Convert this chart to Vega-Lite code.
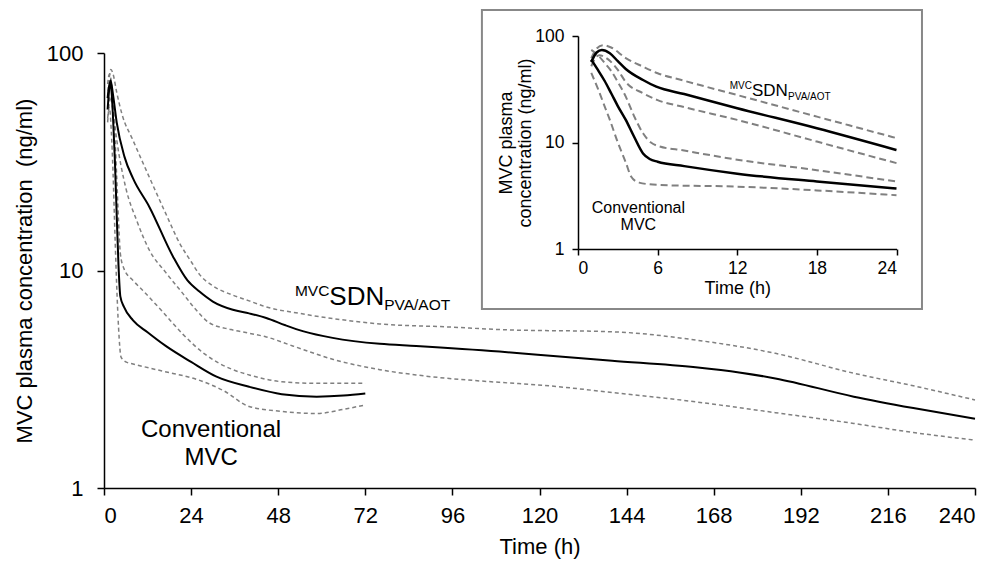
{
"$schema":"https://vega.github.io/schema/vega-lite/v6.json",
"width":871,"height":435,
"autosize":{"type":"none"},
"padding":{"left":104,"top":53,"right":27,"bottom":76},
"config":{"font":"Liberation Sans","view":{"stroke":null},
"axis":{"grid":false,"domainColor":"#000","tickColor":"#000","labelColor":"#000","titleColor":"#000","titleFontWeight":"normal","domainWidth":1.5,"tickWidth":1.5}},
"datasets":{"curves":[
{"p":"main","s":"conv","t":1,"c":62},{"p":"main","s":"conv","t":1.5,"c":72},{"p":"main","s":"conv","t":2,"c":68},{"p":"main","s":"conv","t":2.5,"c":50},{"p":"main","s":"conv","t":3,"c":32},{"p":"main","s":"conv","t":3.5,"c":18},{"p":"main","s":"conv","t":4,"c":10.5},{"p":"main","s":"conv","t":4.5,"c":7.6},{"p":"main","s":"conv","t":5.5,"c":6.8},{"p":"main","s":"conv","t":8,"c":5.9},{"p":"main","s":"conv","t":12,"c":5.2},{"p":"main","s":"conv","t":17,"c":4.5},{"p":"main","s":"conv","t":24,"c":3.8},{"p":"main","s":"conv","t":31,"c":3.25},{"p":"main","s":"conv","t":40,"c":2.92},{"p":"main","s":"conv","t":49,"c":2.7},{"p":"main","s":"conv","t":58.6,"c":2.63},{"p":"main","s":"conv","t":66,"c":2.66},{"p":"main","s":"conv","t":72,"c":2.72},
{"p":"main","s":"conv_hi","t":1,"c":72},{"p":"main","s":"conv_hi","t":1.5,"c":80},{"p":"main","s":"conv_hi","t":2,"c":74},{"p":"main","s":"conv_hi","t":2.5,"c":60},{"p":"main","s":"conv_hi","t":3,"c":42},{"p":"main","s":"conv_hi","t":3.5,"c":27},{"p":"main","s":"conv_hi","t":4,"c":17},{"p":"main","s":"conv_hi","t":4.5,"c":12},{"p":"main","s":"conv_hi","t":5.5,"c":10.2},{"p":"main","s":"conv_hi","t":8,"c":9},{"p":"main","s":"conv_hi","t":10.7,"c":8.1},{"p":"main","s":"conv_hi","t":16,"c":6.5},{"p":"main","s":"conv_hi","t":21.7,"c":5.1},{"p":"main","s":"conv_hi","t":28,"c":4.1},{"p":"main","s":"conv_hi","t":35.5,"c":3.5},{"p":"main","s":"conv_hi","t":40,"c":3.31},{"p":"main","s":"conv_hi","t":49,"c":3.08},{"p":"main","s":"conv_hi","t":58.6,"c":3.03},{"p":"main","s":"conv_hi","t":72,"c":3.03},
{"p":"main","s":"conv_lo","t":1,"c":50},{"p":"main","s":"conv_lo","t":1.5,"c":56},{"p":"main","s":"conv_lo","t":2,"c":44},{"p":"main","s":"conv_lo","t":2.5,"c":28},{"p":"main","s":"conv_lo","t":3,"c":15},{"p":"main","s":"conv_lo","t":3.5,"c":8.5},{"p":"main","s":"conv_lo","t":4,"c":5.5},{"p":"main","s":"conv_lo","t":4.7,"c":4.0},{"p":"main","s":"conv_lo","t":6,"c":3.8},{"p":"main","s":"conv_lo","t":8,"c":3.72},{"p":"main","s":"conv_lo","t":16,"c":3.45},{"p":"main","s":"conv_lo","t":26,"c":3.14},{"p":"main","s":"conv_lo","t":33,"c":2.8},{"p":"main","s":"conv_lo","t":40,"c":2.37},{"p":"main","s":"conv_lo","t":49,"c":2.25},{"p":"main","s":"conv_lo","t":58.6,"c":2.2},{"p":"main","s":"conv_lo","t":66,"c":2.3},{"p":"main","s":"conv_lo","t":72,"c":2.41},
{"p":"main","s":"sdn","t":1,"c":55},{"p":"main","s":"sdn","t":1.5,"c":70},{"p":"main","s":"sdn","t":1.8,"c":75},{"p":"main","s":"sdn","t":2.5,"c":64},{"p":"main","s":"sdn","t":3.5,"c":48},{"p":"main","s":"sdn","t":5.65,"c":33.3},{"p":"main","s":"sdn","t":8,"c":26.5},{"p":"main","s":"sdn","t":12.5,"c":19.6},{"p":"main","s":"sdn","t":19,"c":11.6},{"p":"main","s":"sdn","t":23,"c":9.0},{"p":"main","s":"sdn","t":26.3,"c":8.0},{"p":"main","s":"sdn","t":30,"c":7.2},{"p":"main","s":"sdn","t":35.5,"c":6.6},{"p":"main","s":"sdn","t":40,"c":6.35},{"p":"main","s":"sdn","t":44.7,"c":6.05},{"p":"main","s":"sdn","t":50,"c":5.6},{"p":"main","s":"sdn","t":55,"c":5.25},{"p":"main","s":"sdn","t":63,"c":4.9},{"p":"main","s":"sdn","t":76,"c":4.6},{"p":"main","s":"sdn","t":86,"c":4.5},{"p":"main","s":"sdn","t":109,"c":4.24},{"p":"main","s":"sdn","t":119.5,"c":4.1},{"p":"main","s":"sdn","t":140,"c":3.85},{"p":"main","s":"sdn","t":163,"c":3.59},{"p":"main","s":"sdn","t":175,"c":3.4},{"p":"main","s":"sdn","t":185,"c":3.19},{"p":"main","s":"sdn","t":206.6,"c":2.63},{"p":"main","s":"sdn","t":223,"c":2.33},{"p":"main","s":"sdn","t":240,"c":2.08},
{"p":"main","s":"sdn_hi","t":1,"c":62},{"p":"main","s":"sdn_hi","t":1.5,"c":78},{"p":"main","s":"sdn_hi","t":1.9,"c":84},{"p":"main","s":"sdn_hi","t":2.5,"c":80},{"p":"main","s":"sdn_hi","t":3.5,"c":66},{"p":"main","s":"sdn_hi","t":5,"c":52},{"p":"main","s":"sdn_hi","t":7.9,"c":40},{"p":"main","s":"sdn_hi","t":12,"c":28},{"p":"main","s":"sdn_hi","t":17,"c":18.3},{"p":"main","s":"sdn_hi","t":21,"c":13.2},{"p":"main","s":"sdn_hi","t":24,"c":11},{"p":"main","s":"sdn_hi","t":26.3,"c":9.6},{"p":"main","s":"sdn_hi","t":30,"c":8.5},{"p":"main","s":"sdn_hi","t":35.5,"c":7.7},{"p":"main","s":"sdn_hi","t":40,"c":7.25},{"p":"main","s":"sdn_hi","t":44.7,"c":6.8},{"p":"main","s":"sdn_hi","t":53.9,"c":6.35},{"p":"main","s":"sdn_hi","t":65,"c":5.95},{"p":"main","s":"sdn_hi","t":76,"c":5.68},{"p":"main","s":"sdn_hi","t":95,"c":5.5},{"p":"main","s":"sdn_hi","t":109,"c":5.35},{"p":"main","s":"sdn_hi","t":141,"c":5.22},{"p":"main","s":"sdn_hi","t":163,"c":4.79},{"p":"main","s":"sdn_hi","t":185,"c":4.16},{"p":"main","s":"sdn_hi","t":206.6,"c":3.37},{"p":"main","s":"sdn_hi","t":223,"c":2.95},{"p":"main","s":"sdn_hi","t":240,"c":2.54},
{"p":"main","s":"sdn_lo","t":1,"c":48},{"p":"main","s":"sdn_lo","t":1.5,"c":60},{"p":"main","s":"sdn_lo","t":1.7,"c":63},{"p":"main","s":"sdn_lo","t":2.5,"c":54},{"p":"main","s":"sdn_lo","t":3.5,"c":40},{"p":"main","s":"sdn_lo","t":6,"c":24},{"p":"main","s":"sdn_lo","t":9,"c":17},{"p":"main","s":"sdn_lo","t":12.5,"c":12.4},{"p":"main","s":"sdn_lo","t":17,"c":9.8},{"p":"main","s":"sdn_lo","t":21.7,"c":7.85},{"p":"main","s":"sdn_lo","t":25,"c":6.7},{"p":"main","s":"sdn_lo","t":29,"c":5.75},{"p":"main","s":"sdn_lo","t":35,"c":5.35},{"p":"main","s":"sdn_lo","t":40.2,"c":5.14},{"p":"main","s":"sdn_lo","t":44.7,"c":4.95},{"p":"main","s":"sdn_lo","t":52,"c":4.5},{"p":"main","s":"sdn_lo","t":63.2,"c":3.9},{"p":"main","s":"sdn_lo","t":76,"c":3.5},{"p":"main","s":"sdn_lo","t":86,"c":3.31},{"p":"main","s":"sdn_lo","t":109,"c":3.06},{"p":"main","s":"sdn_lo","t":119.5,"c":2.98},{"p":"main","s":"sdn_lo","t":140,"c":2.75},{"p":"main","s":"sdn_lo","t":163,"c":2.49},{"p":"main","s":"sdn_lo","t":185,"c":2.22},{"p":"main","s":"sdn_lo","t":206.6,"c":1.98},{"p":"main","s":"sdn_lo","t":223,"c":1.8},{"p":"main","s":"sdn_lo","t":240,"c":1.66},
{"p":"inset","s":"sdn","t":1,"c":57},{"p":"inset","s":"sdn","t":1.4,"c":70},{"p":"inset","s":"sdn","t":1.8,"c":74},{"p":"inset","s":"sdn","t":2.4,"c":69},{"p":"inset","s":"sdn","t":3,"c":58},{"p":"inset","s":"sdn","t":3.6,"c":49},{"p":"inset","s":"sdn","t":4.9,"c":38.6},{"p":"inset","s":"sdn","t":5.9,"c":33.4},{"p":"inset","s":"sdn","t":8,"c":28.5},{"p":"inset","s":"sdn","t":12,"c":21},{"p":"inset","s":"sdn","t":18,"c":13.6},{"p":"inset","s":"sdn","t":24,"c":8.5},
{"p":"inset","s":"sdn_hi","t":1,"c":62},{"p":"inset","s":"sdn_hi","t":1.4,"c":76},{"p":"inset","s":"sdn_hi","t":1.9,"c":82},{"p":"inset","s":"sdn_hi","t":2.5,"c":78},{"p":"inset","s":"sdn_hi","t":3.6,"c":62},{"p":"inset","s":"sdn_hi","t":4.9,"c":51.5},{"p":"inset","s":"sdn_hi","t":6,"c":44.7},{"p":"inset","s":"sdn_hi","t":8,"c":38},{"p":"inset","s":"sdn_hi","t":12,"c":27.9},{"p":"inset","s":"sdn_hi","t":18,"c":17.5},{"p":"inset","s":"sdn_hi","t":24,"c":11},
{"p":"inset","s":"sdn_lo","t":1,"c":52},{"p":"inset","s":"sdn_lo","t":1.3,"c":62},{"p":"inset","s":"sdn_lo","t":1.6,"c":66},{"p":"inset","s":"sdn_lo","t":2.3,"c":60},{"p":"inset","s":"sdn_lo","t":3,"c":48},{"p":"inset","s":"sdn_lo","t":3.6,"c":37},{"p":"inset","s":"sdn_lo","t":4.9,"c":29},{"p":"inset","s":"sdn_lo","t":6,"c":25},{"p":"inset","s":"sdn_lo","t":8,"c":21.5},{"p":"inset","s":"sdn_lo","t":12,"c":16.3},{"p":"inset","s":"sdn_lo","t":18,"c":10.2},{"p":"inset","s":"sdn_lo","t":24,"c":6.4},
{"p":"inset","s":"conv","t":1,"c":60},{"p":"inset","s":"conv","t":1.5,"c":48},{"p":"inset","s":"conv","t":2,"c":38},{"p":"inset","s":"conv","t":2.5,"c":29},{"p":"inset","s":"conv","t":3,"c":22},{"p":"inset","s":"conv","t":3.6,"c":16.3},{"p":"inset","s":"conv","t":4.2,"c":11.5},{"p":"inset","s":"conv","t":4.9,"c":7.9},{"p":"inset","s":"conv","t":5.4,"c":7.0},{"p":"inset","s":"conv","t":6,"c":6.6},{"p":"inset","s":"conv","t":8,"c":6.0},{"p":"inset","s":"conv","t":12,"c":5.1},{"p":"inset","s":"conv","t":18,"c":4.3},{"p":"inset","s":"conv","t":24,"c":3.7},
{"p":"inset","s":"conv_hi","t":1,"c":74},{"p":"inset","s":"conv_hi","t":1.5,"c":66},{"p":"inset","s":"conv_hi","t":2,"c":56},{"p":"inset","s":"conv_hi","t":2.5,"c":47},{"p":"inset","s":"conv_hi","t":3,"c":37},{"p":"inset","s":"conv_hi","t":3.6,"c":27},{"p":"inset","s":"conv_hi","t":4.2,"c":18},{"p":"inset","s":"conv_hi","t":4.9,"c":12.2},{"p":"inset","s":"conv_hi","t":5.5,"c":10},{"p":"inset","s":"conv_hi","t":6,"c":9.3},{"p":"inset","s":"conv_hi","t":8,"c":8.4},{"p":"inset","s":"conv_hi","t":12,"c":6.9},{"p":"inset","s":"conv_hi","t":18,"c":5.5},{"p":"inset","s":"conv_hi","t":24,"c":4.3},
{"p":"inset","s":"conv_lo","t":1,"c":45},{"p":"inset","s":"conv_lo","t":1.5,"c":32},{"p":"inset","s":"conv_lo","t":2,"c":22},{"p":"inset","s":"conv_lo","t":2.4,"c":16.3},{"p":"inset","s":"conv_lo","t":3,"c":10},{"p":"inset","s":"conv_lo","t":3.6,"c":6.5},{"p":"inset","s":"conv_lo","t":4,"c":4.8},{"p":"inset","s":"conv_lo","t":4.6,"c":4.2},{"p":"inset","s":"conv_lo","t":6,"c":4.0},{"p":"inset","s":"conv_lo","t":12,"c":3.85},{"p":"inset","s":"conv_lo","t":18,"c":3.55},{"p":"inset","s":"conv_lo","t":24,"c":3.2}
]},
"layer":[
{"layer":[
 {"data":{"name":"curves"},"transform":[{"filter":"datum.p=='main' && datum.s!='conv' && datum.s!='sdn'"}],
  "mark":{"type":"line","interpolate":"monotone","color":"#808080","strokeWidth":1.5,"strokeDash":[4,3]},
  "encoding":{"detail":{"field":"s"},
   "x":{"field":"t","type":"quantitative","scale":{"domain":[0,240],"nice":false,"zero":false},
    "axis":{"orient":"bottom","values":[0,24,48,72,96,120,144,168,192,216,240],"title":"Time (h)","labelFontSize":22,"titleFontSize":22,"tickSize":7,"labelPadding":10,"titlePadding":10}},
   "y":{"field":"c","type":"quantitative","scale":{"type":"log","domain":[1,100],"nice":false},
    "axis":{"orient":"left","values":[1,10,100],"format":"d","title":"MVC plasma concentration\u00a0 (ng/ml)","labelFontSize":22,"titleFontSize":22,"tickSize":7,"labelPadding":14,"titlePadding":10}}}},
 {"data":{"name":"curves"},"transform":[{"filter":"datum.p=='main' && (datum.s=='conv' || datum.s=='sdn')"}],
  "mark":{"type":"line","interpolate":"monotone","color":"#000","strokeWidth":2},
  "encoding":{"detail":{"field":"s"},"x":{"field":"t","type":"quantitative"},"y":{"field":"c","type":"quantitative"}}},
 {"data":{"values":[{}]},"mark":{"type":"text","text":"MVC","fontSize":15.5,"align":"right","baseline":"alphabetic","color":"#000"},"encoding":{"x":{"datum":62.1,"type":"quantitative"},"y":{"datum":7.635,"type":"quantitative"}}},
 {"data":{"values":[{}]},"mark":{"type":"text","text":"SDN","fontSize":26,"align":"left","baseline":"alphabetic","color":"#000"},"encoding":{"x":{"datum":62.1,"type":"quantitative"},"y":{"datum":6.94,"type":"quantitative"}}},
 {"data":{"values":[{}]},"mark":{"type":"text","text":"PVA/AOT","fontSize":15.5,"align":"left","baseline":"alphabetic","color":"#000"},"encoding":{"x":{"datum":77.2,"type":"quantitative"},"y":{"datum":6.58,"type":"quantitative"}}},
 {"data":{"values":[{}]},"mark":{"type":"text","text":"Conventional","fontSize":24,"align":"center","baseline":"alphabetic","color":"#000"},"encoding":{"x":{"datum":29.5,"type":"quantitative"},"y":{"datum":1.716,"type":"quantitative"}}},
 {"data":{"values":[{}]},"mark":{"type":"text","text":"MVC","fontSize":24,"align":"center","baseline":"alphabetic","color":"#000"},"encoding":{"x":{"datum":29.5,"type":"quantitative"},"y":{"datum":1.276,"type":"quantitative"}}}
]},
{"layer":[
 {"data":{"values":[{}]},"mark":{"type":"rect","fill":"#fff","stroke":"#888","strokeWidth":2},
  "encoding":{
   "x":{"datum":-7.24,"type":"quantitative","scale":{"domain":[0,24],"nice":false,"zero":false,"range":[474,792.5]},
    "axis":{"orient":"bottom","offset":-239,"zindex":1,"values":[0,6,12,18,24],"title":"Time (h)","labelFontSize":17.5,"titleFontSize":18,"tickSize":6,"labelPadding":4,"titlePadding":3}},
   "x2":{"datum":25.92},
   "y":{"datum":0.2733,"type":"quantitative","scale":{"type":"log","domain":[1,100],"nice":false,"range":[196,-17]},
    "axis":{"orient":"left","offset":-474,"zindex":1,"values":[1,10,100],"format":"d","title":["MVC plasma","concentration (ng/ml)"],"titleLineHeight":19,"labelFontSize":17.5,"titleFontSize":18,"tickSize":6,"labelPadding":8,"titlePadding":0}},
   "y2":{"datum":175.4}}},
 {"data":{"name":"curves"},"transform":[{"filter":"datum.p=='inset' && datum.s!='conv' && datum.s!='sdn'"}],
  "mark":{"type":"line","interpolate":"monotone","color":"#808080","strokeWidth":2,"strokeDash":[7,4]},
  "encoding":{"detail":{"field":"s"},"x":{"field":"t","type":"quantitative"},"y":{"field":"c","type":"quantitative"}}},
 {"data":{"name":"curves"},"transform":[{"filter":"datum.p=='inset' && (datum.s=='conv' || datum.s=='sdn')"}],
  "mark":{"type":"line","interpolate":"monotone","color":"#000","strokeWidth":2.5},
  "encoding":{"detail":{"field":"s"},"x":{"field":"t","type":"quantitative"},"y":{"field":"c","type":"quantitative"}}},
 {"data":{"values":[{}]},"mark":{"type":"text","text":"MVC","fontSize":10,"align":"right","baseline":"alphabetic","color":"#000"},"encoding":{"x":{"datum":13.11,"type":"quantitative"},"y":{"datum":31.8,"type":"quantitative"}}},
 {"data":{"values":[{}]},"mark":{"type":"text","text":"SDN","fontSize":17,"align":"left","baseline":"alphabetic","color":"#000"},"encoding":{"x":{"datum":13.11,"type":"quantitative"},"y":{"datum":27.3,"type":"quantitative"}}},
 {"data":{"values":[{}]},"mark":{"type":"text","text":"PVA/AOT","fontSize":10,"align":"left","baseline":"alphabetic","color":"#000"},"encoding":{"x":{"datum":15.83,"type":"quantitative"},"y":{"datum":25.06,"type":"quantitative"}}},
 {"data":{"values":[{}]},"mark":{"type":"text","text":"Conventional","fontSize":16,"align":"center","baseline":"alphabetic","color":"#000"},"encoding":{"x":{"datum":4.55,"type":"quantitative"},"y":{"datum":2.19,"type":"quantitative"}}},
 {"data":{"values":[{}]},"mark":{"type":"text","text":"MVC","fontSize":16,"align":"center","baseline":"alphabetic","color":"#000"},"encoding":{"x":{"datum":4.55,"type":"quantitative"},"y":{"datum":1.507,"type":"quantitative"}}}
]}
],
"resolve":{"scale":{"x":"independent","y":"independent"}}
}
